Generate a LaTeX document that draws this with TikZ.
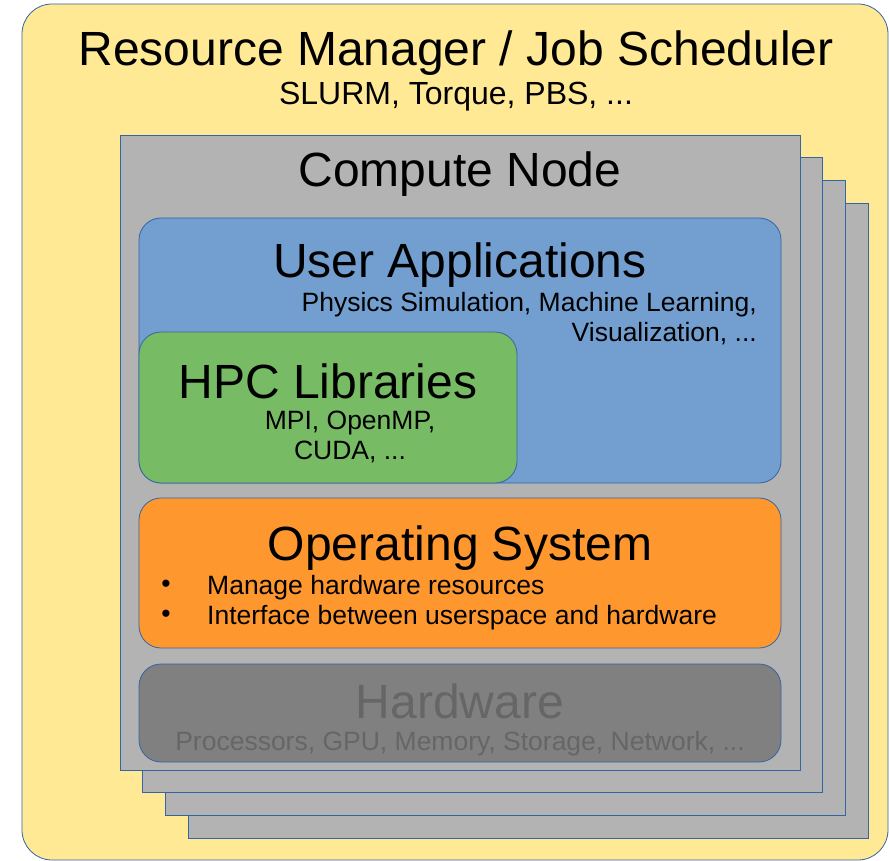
\documentclass[tikz,border=0pt]{standalone}
\usepackage{fontspec}
\setmainfont{Liberation Sans}
\definecolor{rmyellow}{HTML}{FFE994}
\definecolor{edgeblue}{HTML}{3465A4}
\definecolor{nodegray}{HTML}{B3B3B3}
\definecolor{appblue}{HTML}{729FCF}
\definecolor{libgreen}{HTML}{77BC65}
\definecolor{osorange}{HTML}{FF972F}
\definecolor{hwgray}{HTML}{808080}
\definecolor{hwtext}{HTML}{666666}
\usetikzlibrary{positioning}
\tikzset{
  layer/.style={draw=edgeblue,line width=0.8pt,rounded corners=22pt},
  stackbox/.style={draw=edgeblue,line width=0.8pt,fill=nodegray},
  bigtext/.style={font=\fontsize{48}{52}\selectfont,inner sep=0pt},
  smalltext/.style={font=\fontsize{26.5}{30}\selectfont,inner sep=0pt}
}
\begin{document}
\begin{tikzpicture}[x=1pt,y=-1pt]
  \useasboundingbox (0,0) rectangle (889,861);
  % outer frame
  \draw[draw=edgeblue,line width=0.8pt,fill=rmyellow,rounded corners=30pt] (22,4) rectangle (888,860);
  \node[bigtext] (rmtitle) at (456,53) {Resource Manager / Job Scheduler};
  \node[smalltext,font=\fontsize{32}{36}\selectfont] (rmsub) at (456,97) {SLURM, Torque, PBS, ...};
  % stacked compute nodes
  \foreach \k in {3,2,1,0}
    \draw[stackbox] (120+22.7*\k,135+22.7*\k) rectangle (800+22.7*\k,770+22.7*\k);
  \node[bigtext] (cntitle) at (460,174) {Compute Node};
  % user applications
  \draw[layer,fill=appblue] (139,218) rectangle (781,483);
  \node[bigtext] (apptitle) at (460,265) {User Applications};
  \node[smalltext,align=right,anchor=north east] (appsub) at (757,292) {Physics Simulation, Machine Learning,\\Visualization, ...};
  % hpc libraries
  \draw[layer,fill=libgreen] (139,332) rectangle (517,483);
  \node[bigtext] (libtitle) at (328,381) {HPC Libraries};
  \node[smalltext,align=center,anchor=north] (libsub) at (350,411) {MPI, OpenMP,\\CUDA, ...};
  % operating system
  \draw[layer,fill=osorange] (139,498) rectangle (781,648);
  \node[bigtext] (ostitle) at (460,548) {Operating System};
  \node[smalltext,anchor=west] (ositema) at (207,588) {Manage hardware resources};
  \node[smalltext,anchor=west] (ositemb) at (207,618) {Interface between userspace and hardware};
  \node[smalltext] (bulleta) at (166,586) {•};
  \node[smalltext] (bulletb) at (166,616) {•};
  % hardware
  \draw[layer,fill=hwgray] (139,664) rectangle (781,762);
  \node[bigtext,text=hwtext] (hwtitle) at (460,701) {Hardware};
  \node[smalltext,text=hwtext] (hwsub) at (460,744) {Processors, GPU, Memory, Storage, Network, ...};
\end{tikzpicture}
\end{document}
